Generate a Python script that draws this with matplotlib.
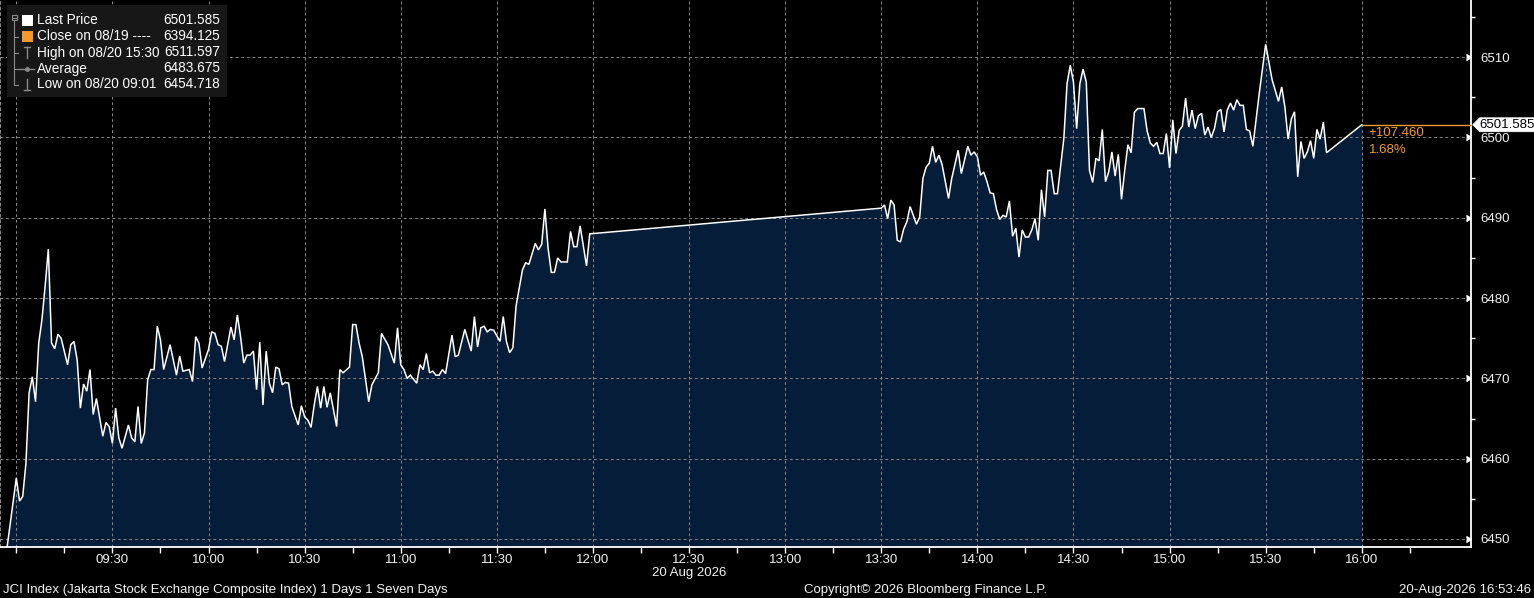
import numpy as np
import pandas as pd
import matplotlib
matplotlib.use("Agg")
import matplotlib.pyplot as plt
import matplotlib.transforms as mtransforms
from matplotlib.patches import Rectangle, Polygon
from matplotlib.lines import Line2D

# ---------------- data ----------------
session_date = "2026-08-20"
session_open = "09:00"

morning_minutes = [-4, 0, 1, 2, 3, 4, 5, 6, 7, 8, 9, 10, 11, 12, 13, 14, 16, 17, 18, 19,
                   20, 21, 22, 23, 24, 25, 27, 28, 29, 30, 31, 32, 33, 35, 36, 37, 38, 39, 40, 41,
                   42, 43, 44, 45, 46, 48, 50, 51, 52, 54, 55, 56, 57, 58, 60, 61, 62, 63, 64, 65,
                   67, 68, 69, 70, 71, 72, 73, 74, 75, 76, 77, 78, 79, 80, 81, 82, 83, 84, 85, 86,
                   88, 89, 90, 91, 92, 93, 94, 95, 96, 97, 98, 100, 101, 102, 104, 105, 106, 107, 108, 110,
                   111, 113, 114, 116, 118, 119, 120, 121, 122, 123, 125, 126, 127, 128, 129, 130, 131, 132, 133, 134,
                   136, 137, 138, 140, 142, 143, 144, 145, 146, 147, 148, 149, 151, 152, 153, 154, 155, 156, 158, 159,
                   160, 162, 163, 164, 165, 166, 167, 168, 169, 170, 172, 173, 174, 175, 176, 178, 179]
morning_values = [6445.6, 6457.6, 6454.718, 6455.3, 6459.4, 6468.2, 6470.2, 6467.1, 6474.4, 6477.3,
                  6481.5, 6486.1, 6474.4, 6473.7, 6475.5, 6475.0, 6471.7, 6474.2, 6474.6, 6472.3,
                  6466.3, 6469.3, 6468.4, 6471.1, 6465.5, 6467.5, 6462.8, 6464.5, 6464.0, 6461.9,
                  6466.3, 6462.6, 6461.3, 6464.2, 6462.6, 6462.1, 6466.5, 6461.9, 6463.2, 6469.8,
                  6471.1, 6471.1, 6476.5, 6474.8, 6471.1, 6474.2, 6470.4, 6472.8, 6470.9, 6471.1,
                  6469.6, 6475.2, 6474.4, 6471.3, 6473.6, 6475.8, 6475.6, 6474.2, 6474.0, 6472.1,
                  6476.4, 6474.8, 6477.9, 6475.2, 6471.9, 6472.9, 6472.9, 6473.4, 6468.6, 6474.5,
                  6466.7, 6473.4, 6469.4, 6468.2, 6471.4, 6471.2, 6469.2, 6469.5, 6469.4, 6466.5,
                  6464.2, 6466.6, 6465.2, 6464.8, 6463.9, 6466.7, 6469.0, 6466.3, 6469.0, 6466.4,
                  6468.2, 6464.0, 6471.1, 6470.7, 6471.4, 6476.7, 6476.7, 6474.4, 6472.7, 6467.1,
                  6469.2, 6470.7, 6475.6, 6474.2, 6471.9, 6476.3, 6471.7, 6471.1, 6470.0, 6470.4,
                  6469.4, 6471.7, 6471.1, 6473.1, 6470.7, 6470.9, 6470.4, 6470.4, 6471.1, 6470.6,
                  6475.4, 6472.7, 6472.9, 6476.1, 6473.4, 6477.7, 6473.9, 6476.3, 6476.5, 6475.8,
                  6476.1, 6476.0, 6474.6, 6477.7, 6474.6, 6473.2, 6473.8, 6479.0, 6483.5, 6484.4,
                  6484.2, 6486.8, 6486.0, 6486.7, 6491.1, 6486.2, 6483.2, 6483.2, 6485.0, 6484.5,
                  6484.5, 6488.3, 6486.4, 6486.4, 6489.0, 6484.0, 6488.0]

afternoon_minutes = [270, 271, 272, 273, 274, 275, 276, 277, 278, 279, 280, 281, 282, 283, 284, 285, 286, 287, 288, 289,
                     291, 292, 294, 295, 297, 298, 299, 300, 301, 302, 303, 304, 305, 306, 307, 308, 309, 310, 311, 312,
                     313, 314, 315, 316, 317, 318, 319, 320, 321, 322, 323, 324, 325, 327, 328, 329, 330, 331, 332, 333,
                     334, 335, 336, 337, 338, 339, 340, 341, 342, 343, 344, 345, 346, 347, 348, 349, 350, 352, 353, 354,
                     355, 356, 357, 358, 359, 360, 361, 362, 363, 364, 365, 366, 367, 368, 369, 370, 371, 372, 373, 374,
                     375, 376, 377, 378, 379, 380, 381, 382, 383, 384, 385, 386, 388, 390, 391, 392, 394, 395, 396, 397,
                     398, 399, 400, 401, 402, 403, 404, 405, 406, 407, 408, 409, 420]
afternoon_values = [6491.2, 6491.6, 6489.9, 6492.2, 6491.6, 6487.2, 6487.0, 6488.6, 6489.5, 6491.4,
                    6490.3, 6489.2, 6490.1, 6494.9, 6496.3, 6496.8, 6498.9, 6496.9, 6497.8, 6496.6,
                    6492.4, 6494.9, 6498.4, 6495.5, 6498.9, 6497.8, 6498.2, 6497.6, 6495.3, 6495.7,
                    6494.5, 6493.1, 6493.0, 6491.0, 6489.8, 6490.3, 6490.1, 6492.1, 6487.7, 6488.7,
                    6485.1, 6488.5, 6487.6, 6487.6, 6488.5, 6489.9, 6487.2, 6493.5, 6490.1, 6495.9,
                    6495.9, 6493.0, 6493.0, 6499.9, 6506.7, 6509.0, 6506.9, 6501.1, 6506.7, 6508.5,
                    6506.9, 6495.9, 6494.4, 6497.4, 6497.1, 6501.0, 6494.5, 6495.7, 6498.2, 6495.2,
                    6497.9, 6492.3, 6495.9, 6499.1, 6498.1, 6503.1, 6503.6, 6503.6, 6500.8, 6499.3,
                    6498.9, 6499.4, 6498.0, 6498.0, 6500.5, 6496.2, 6502.2, 6498.0, 6500.9, 6501.4,
                    6504.9, 6501.3, 6503.4, 6501.1, 6502.7, 6503.0, 6500.3, 6501.3, 6500.0, 6501.1,
                    6503.2, 6503.5, 6500.7, 6503.4, 6504.3, 6503.4, 6504.7, 6504.0, 6504.0, 6501.0,
                    6500.8, 6498.9, 6505.5, 6511.597, 6509.4, 6507.2, 6504.5, 6506.3, 6503.8, 6499.8,
                    6502.3, 6503.2, 6495.1, 6499.5, 6497.4, 6498.2, 6499.6, 6497.4, 6501.0, 6499.8,
                    6501.9, 6498.1, 6501.585]

prev_close = 6394.125
last_price = 6501.585
high_value = 6511.597
average_value = 6483.675
low_value = 6454.718

legend_labels = ["Last Price", "Close on 08/19 ----", "High on 08/20 15:30", "Average", "Low on 08/20 09:01"]
legend_values = [last_price, prev_close, high_value, average_value, low_value]

xtick_times = ["09:00", "09:30", "10:00", "10:30", "11:00", "11:30", "12:00", "12:30",
               "13:00", "13:30", "14:00", "14:30", "15:00", "15:30", "16:00"]
xtick_labels = ["", "09:30", "10:00", "10:30", "11:00", "11:30", "12:00", "12:30",
                "13:00", "13:30", "14:00", "14:30", "15:00", "15:30", "16:00"]
xminor_times = ["09:15", "09:45", "10:15", "10:45", "11:15", "11:45", "12:15", "12:45",
                "13:15", "13:45", "14:15", "14:45", "15:15", "15:45", "16:15"]
ytick_values = [6450, 6460, 6470, 6480, 6490, 6500, 6510]
yminor_values = [6455, 6465, 6475, 6485, 6495, 6505, 6515]

date_label = "20 Aug 2026"
date_label_at = "12:30"
footer_left = "JCI Index (Jakarta Stock Exchange Composite Index) 1 Days 1 Seven Days"
footer_mid = "Copyright\u00a9 2026 Bloomberg Finance L.P."
footer_right = "20-Aug-2026 16:53:46"

# ---------------- style ----------------
W, H = 1534, 598
BG = "black"
FILL = "#061d3a"
ORANGE = "#f39a2c"
GRID = "#858585"
TXT = "#f2f2f2"
FS = 9.5
FS_LEG = 9.8

plt.rcParams["font.family"] = ["Liberation Sans", "DejaVu Sans"]

def to_time(hhmm):
    return pd.Timestamp(f"{session_date} {hhmm}")

t0 = to_time(session_open)
minutes = np.array(morning_minutes + afternoon_minutes, dtype=float)
values = np.array(morning_values + afternoon_values)
times = t0 + pd.to_timedelta(minutes, unit="min")

fig = plt.figure(figsize=(W / 100, H / 100), dpi=100, facecolor=BG)
ax_bottom_px = 546.7
ax_right_px = 1470.7
ax = fig.add_axes([0, (H - ax_bottom_px) / H, ax_right_px / W, ax_bottom_px / H])
ax.set_facecolor(BG)

xmin = t0 - pd.Timedelta(minutes=5.09)
xmax = t0 + pd.Timedelta(minutes=454.0)
ymin, ymax = 6449.04, 6517.12
ax.set_xlim(xmin, xmax)
ax.set_ylim(ymin, ymax)

ax.fill_between(times, values, ymin - 10, color=FILL, lw=0, zorder=1)
ax.plot(times, values, color="white", lw=1.1, zorder=3, solid_joinstyle="miter")

# orange last-price line
ax.plot([times[-1], xmax], [last_price, last_price], color=ORANGE, lw=1.0, zorder=4, clip_on=False)
chg = last_price - prev_close
pct = chg / prev_close * 100
ax.annotate(f"+{chg:.3f}", xy=(times[-1], last_price), xytext=(7, -2), textcoords="offset pixels",
            ha="left", va="top", color=ORANGE, fontsize=FS, zorder=5)
ax.annotate(f"{pct:.2f}%", xy=(times[-1], last_price), xytext=(7, -19), textcoords="offset pixels",
            ha="left", va="top", color=ORANGE, fontsize=FS, zorder=5)

# ticks
ax.set_xticks([to_time(t) for t in xtick_times])
ax.set_xticklabels(xtick_labels)
ax.set_xticks([to_time(t) for t in xminor_times], minor=True)
ax.tick_params(axis="x", which="both", direction="out", length=4, width=1, color="white",
               labelcolor=TXT, labelsize=FS, pad=1.2)
ax.yaxis.tick_right()
ax.set_yticks(ytick_values)
ax.set_yticks(yminor_values, minor=True)
ax.tick_params(axis="y", which="major", length=0, pad=7, labelcolor=TXT, labelsize=FS)
ax.tick_params(axis="y", which="minor", length=3, width=1, color="white")

ax.grid(True, which="major", color=GRID, lw=0.72, ls=(0, (2.8, 2.8)), zorder=2)

ax.spines["top"].set_visible(False)
ax.spines["left"].set_color(GRID)
ax.spines["left"].set_linestyle((0, (2.8, 2.8)))
ax.spines["left"].set_linewidth(0.72)
ax.spines["right"].set_color("white")
ax.spines["right"].set_linewidth(1.3)
ax.spines["bottom"].set_color("white")
ax.spines["bottom"].set_linewidth(1.3)

blend = mtransforms.blended_transform_factory(ax.transAxes, ax.transData)
ax.plot(np.ones(len(ytick_values)), ytick_values, ls="none", marker=5, ms=4.5, color="white",
        transform=blend, clip_on=False, zorder=6)

# last price tag
tag_trans = mtransforms.Affine2D() + mtransforms.ScaledTranslation(1.0, last_price, blend)
tag = Polygon([(2, 0), (9, 7), (80, 7), (80, -7), (9, -7)], closed=True, transform=tag_trans,
              facecolor="white", edgecolor="white", lw=0.5, clip_on=False, zorder=10)
ax.add_artist(tag)
ax.annotate(f"{last_price:.3f}", xy=(1.0, last_price), xycoords=blend, xytext=(9, 0),
            textcoords="offset pixels", ha="left", va="center", color="black", fontsize=FS,
            zorder=11, annotation_clip=False)

# date under 12:30
date_trans = mtransforms.blended_transform_factory(ax.transData, ax.transAxes)
ax.text(to_time(date_label_at), -26.5 / ax_bottom_px, date_label, transform=date_trans,
        ha="center", va="center", color=TXT, fontsize=FS)

# ---------------- legend (pixel coordinates from top-left) ----------------
T = mtransforms.Affine2D().scale(1, -1).translate(0, H)
fig.add_artist(Rectangle((6.5, 5), 220, 92, transform=T, facecolor="#171717", edgecolor="none", zorder=20))
ICON = "#8a8a8a"
row_y = [20.5, 36.5, 52.5, 68.5, 84.5]
# tree
fig.add_artist(Rectangle((11.5, 15), 5, 5, transform=T, facecolor="none", edgecolor=ICON, lw=0.8, zorder=21))
fig.add_artist(Line2D([12.5, 15.5], [17.5, 17.5], transform=T, color=ICON, lw=0.8, zorder=21))
fig.add_artist(Line2D([14, 14], [20, row_y[-1]], transform=T, color=ICON, lw=0.8, zorder=21))
for yy in row_y[1:]:
    fig.add_artist(Line2D([14, 18], [yy, yy], transform=T, color=ICON, lw=0.8, zorder=21))
# markers
fig.add_artist(Rectangle((21.5, row_y[0] - 5.5), 11, 11, transform=T, facecolor="white", edgecolor="none", zorder=21))
fig.add_artist(Rectangle((21.5, row_y[1] - 5.5), 11, 11, transform=T, facecolor=ORANGE, edgecolor="none", zorder=21))
fig.add_artist(Line2D([27, 27], [row_y[2] - 5.5, row_y[2] + 5.5], transform=T, color=ICON, lw=1, zorder=21))
fig.add_artist(Line2D([24, 30], [row_y[2] - 5.5, row_y[2] - 5.5], transform=T, color=ICON, lw=1, zorder=21))
fig.add_artist(Line2D([19, 34], [row_y[3], row_y[3]], transform=T, color=ICON, lw=1, zorder=21))
fig.add_artist(Line2D([26.5], [row_y[3]], transform=T, color=ICON, marker="o", ms=2.5, zorder=21))
fig.add_artist(Line2D([27, 27], [row_y[4] - 5.5, row_y[4] + 5.5], transform=T, color=ICON, lw=1, zorder=21))
fig.add_artist(Line2D([24, 30], [row_y[4] + 5.5, row_y[4] + 5.5], transform=T, color=ICON, lw=1, zorder=21))
for yy, lab, val in zip(row_y, legend_labels, legend_values):
    fig.text(37, yy, lab, transform=T, ha="left", va="center", color="white", fontsize=FS_LEG, zorder=22)
    fig.text(220, yy, f"{val:.3f}", transform=T, ha="right", va="center", color="white", fontsize=FS_LEG, zorder=22)

# ---------------- footer ----------------
fig.text(3, 590, footer_left, transform=T, ha="left", va="center", color=TXT, fontsize=FS)
fig.text(804, 590, footer_mid, transform=T, ha="left", va="center", color=TXT, fontsize=FS)
fig.text(1531, 590, footer_right, transform=T, ha="right", va="center", color=TXT, fontsize=FS)

fig.savefig("out.png", dpi=100, facecolor=BG)
